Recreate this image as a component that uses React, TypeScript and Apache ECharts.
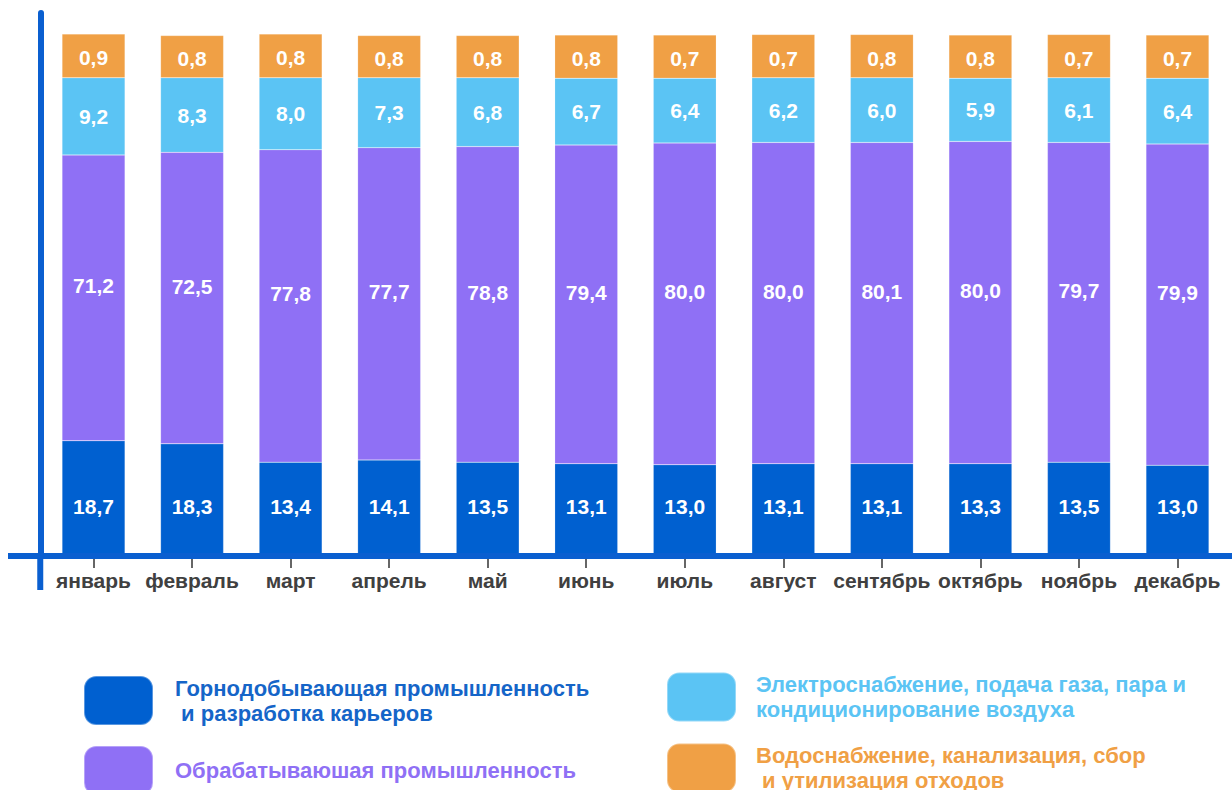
import React, { useEffect, useRef } from "react";
import * as echarts from "echarts";

const months = ["январь", "февраль", "март", "апрель", "май", "июнь", "июль", "август", "сентябрь", "октябрь", "ноябрь", "декабрь"];

// Printed values (shares, %)
const miningValues = [18.7, 18.3, 13.4, 14.1, 13.5, 13.1, 13.0, 13.1, 13.1, 13.3, 13.5, 13.0];
const manufacturingValues = [71.2, 72.5, 77.8, 77.7, 78.8, 79.4, 80.0, 80.0, 80.1, 80.0, 79.7, 79.9];
const electricityValues = [9.2, 8.3, 8.0, 7.3, 6.8, 6.7, 6.4, 6.2, 6.0, 5.9, 6.1, 6.4];
const waterValues = [0.9, 0.8, 0.8, 0.8, 0.8, 0.8, 0.7, 0.7, 0.8, 0.8, 0.7, 0.7];

// Segment heights as drawn in the picture (share of bar height, %) — the original is not to scale
const miningHeights = [22.1, 21.5, 18.0, 18.4, 18.0, 17.7, 17.5, 17.7, 17.7, 17.7, 18.0, 17.4];
const manufacturingHeights = [54.8, 55.9, 59.9, 59.9, 60.5, 61.1, 61.7, 61.6, 61.6, 61.8, 61.3, 61.6];
const electricityHeights = [14.8, 14.3, 13.8, 13.4, 13.2, 12.8, 12.4, 12.4, 12.4, 12.1, 12.4, 12.6];
const waterHeights = [8.4, 8.1, 8.4, 8.1, 8.1, 8.3, 8.3, 8.3, 8.3, 8.3, 8.3, 8.3];

const seriesNames = [
  "Горнодобывающая промышленность",
  "Обрабатываюшая промышленность",
  "Электроснабжение, подача газа, пара и кондиционирование воздуха",
  "Водоснабжение, канализация, сбор и утилизация отходов",
];
const legendTexts: Record<string, string> = {
  [seriesNames[0]]: "Горнодобывающая промышленность\n и разработка карьеров",
  [seriesNames[1]]: "Обрабатываюшая промышленность",
  [seriesNames[2]]: "Электроснабжение, подача газа, пара и\nкондиционирование воздуха",
  [seriesNames[3]]: "Водоснабжение, канализация, сбор\n и утилизация отходов",
};

const colors = ["#0060d0", "#8f70f5", "#5bc4f4", "#f0a045"];
const AXIS_BLUE = "#0a5fd0";
const FONT = "'Liberation Sans', Arial, sans-serif";

export default function App() {
  const ref = useRef<HTMLDivElement>(null);
  useEffect(() => {
    document.body.style.margin = "0";
    if (!ref.current) return;
    const chart = echarts.init(ref.current, null, { renderer: "svg" });
    const fmt = (arr: number[]) => (p: any) => arr[p.dataIndex].toFixed(1).replace(".", ",");
    const mk = (i: number, heights: number[], values: number[], labelPos: any) => ({
      name: seriesNames[i],
      type: "bar",
      stack: "total",
      barWidth: 63,
      data: heights,
      itemStyle: { color: colors[i], borderColor: "rgba(255,255,255,0.35)", borderWidth: 0.5 },
      label: {
        show: true,
        color: "#ffffff",
        fontFamily: FONT,
        fontWeight: "bold",
        fontSize: 21,
        formatter: fmt(values),
        ...labelPos,
      },
    });
    const legendBase = {
      orient: "vertical",
      icon: "roundRect",
      itemWidth: 69,
      itemHeight: 49,
      height: 300,
      selectedMode: false,
      formatter: (n: string) => legendTexts[n],
    };
    const legendText = (pad: number) => ({
      fontFamily: FONT,
      fontWeight: "bold",
      fontSize: 22,
      lineHeight: 25,
      padding: [0, 0, 0, pad],
    });
    chart.setOption({
      animation: false,
      grid: { left: 44.25, right: 5.25, top: 13, bottom: 234 },
      xAxis: {
        type: "category",
        data: months,
        z: 5,
        axisLine: { show: true, lineStyle: { color: AXIS_BLUE, width: 6 } },
        axisTick: { show: true, alignWithLabel: true, length: 12, lineStyle: { color: "#333333", width: 1.5 } },
        axisLabel: {
          interval: 0,
          margin: 14,
          color: "#404040",
          fontFamily: FONT,
          fontWeight: "bold",
          fontSize: 21,
        },
      },
      yAxis: {
        type: "value",
        min: 0,
        max: 104.12,
        offset: 4,
        axisLine: { show: true, lineStyle: { color: AXIS_BLUE, width: 6 } },
        axisTick: { show: false },
        axisLabel: { show: false },
        splitLine: { show: false },
      },
      legend: [
        {
          ...legendBase,
          left: 78,
          top: 670,
          itemGap: 19,
          textStyle: legendText(17),
          data: [
            { name: seriesNames[0], textStyle: { color: "#1565c8" } },
            { name: seriesNames[1], textStyle: { color: "#8f70f5" } },
          ],
        },
        {
          ...legendBase,
          left: 661,
          top: 666.5,
          itemGap: 20,
          textStyle: legendText(15),
          data: [
            { name: seriesNames[2], textStyle: { color: "#5bc4f4" } },
            { name: seriesNames[3], textStyle: { color: "#f0a045" } },
          ],
        },
      ],
      graphic: [
        {
          type: "line",
          z: 100,
          shape: { x1: 8, y1: 556, x2: 1232, y2: 556 },
          style: { stroke: AXIS_BLUE, lineWidth: 6 },
        },
        {
          type: "line",
          z: 100,
          shape: { x1: 40.25, y1: 553, x2: 40.25, y2: 590 },
          style: { stroke: AXIS_BLUE, lineWidth: 6 },
        },
      ],
      series: [
        mk(0, miningHeights, miningValues, { position: "insideBottom", distance: 39 }),
        mk(1, manufacturingHeights, manufacturingValues, { position: "inside", offset: [0, -12] }),
        mk(2, electricityHeights, electricityValues, { position: "inside" }),
        mk(3, waterHeights, waterValues, { position: "inside", offset: [0, 2] }),
      ],
    });
    return () => chart.dispose();
  }, []);
  return <div ref={ref} style={{ width: 1232, height: 790 }} />;
}
